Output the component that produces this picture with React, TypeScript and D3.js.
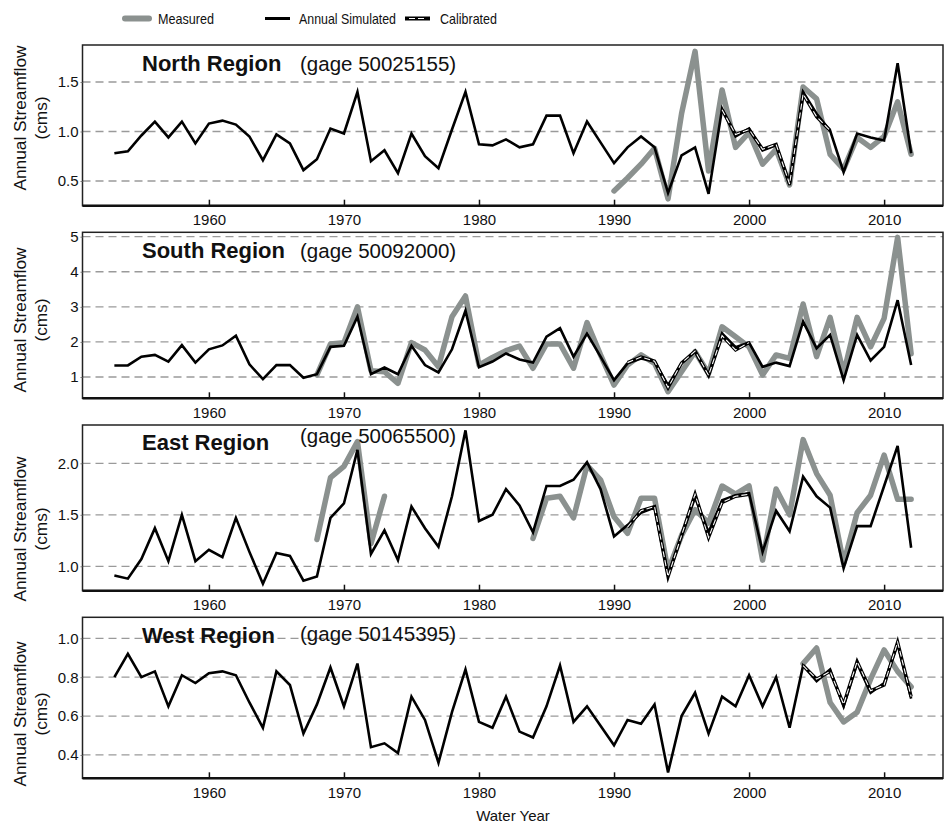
import React, { useEffect, useRef } from "react";
import * as d3 from "d3";

// water years shown on every panel
const years = d3.range(1953, 2013);
const xTicks = [1960, 1970, 1980, 1990, 2000, 2010];

// North Region (gage 50025155)
const northSim = [
  0.78, 0.8, 0.96, 1.1, 0.94, 1.1, 0.88, 1.08, 1.11, 1.07,
  0.95, 0.71, 0.97, 0.88, 0.61, 0.72, 1.03, 0.98, 1.4, 0.7,
  0.81, 0.58, 0.98, 0.75, 0.63, 1.02, 1.4, 0.87, 0.86, 0.92,
  0.84, 0.87, 1.16, 1.16, 0.78, 1.1, 0.89, 0.68, 0.84, 0.95,
  0.84, 0.38, 0.76, 0.84, 0.37, 1.23, 0.95, 1.03, 0.81, 0.86,
  0.46, 1.4, 1.18, 1.01, 0.59, 0.98, 0.94, 0.91, 1.69, 0.78,
];
const northMeasStart = 1990;
const northMeas = [
  0.4, 0.53, 0.67, 0.83, 0.32, 1.18, 1.81, 0.6, 1.42, 0.84, 0.99, 0.67,
  0.82, 0.46, 1.45, 1.33, 0.77, 0.62, 0.94, 0.84, 0.95, 1.3, 0.77,
];
const northCalStart = 1998;
const northCal = [1.22, 0.97, 1.02, 0.82, 0.87, 0.47, 1.38, 1.15, 1.01];

// South Region (gage 50092000)
const southSim = [
  1.33, 1.33, 1.58, 1.63, 1.44, 1.91, 1.41, 1.79, 1.9, 2.18,
  1.36, 0.94, 1.34, 1.34, 0.98, 1.08, 1.86, 1.89, 2.72, 1.08,
  1.27, 1.08, 1.89, 1.34, 1.13, 1.79, 2.89, 1.28, 1.44, 1.67,
  1.5, 1.41, 2.15, 2.39, 1.58, 2.24, 1.58, 0.91, 1.39, 1.53,
  1.44, 0.77, 1.39, 1.72, 1.06, 2.24, 1.85, 1.98, 1.29, 1.41,
  1.31, 2.58, 1.82, 2.2, 0.91, 2.2, 1.47, 1.86, 3.19, 1.34,
];
const southMeasStart = 1968;
const southMeas = [
  1.06, 1.94, 1.98, 3.0, 1.18, 1.15, 0.82, 1.98, 1.77, 1.29,
  2.72, 3.31, 1.34, 1.56, 1.75, 1.88, 1.25, 1.94, 1.94, 1.25,
  2.55, 1.63, 0.77, 1.34, 1.63, 1.39, 0.58, 1.15, 1.72, 1.1,
  2.43, 2.15, 1.86, 1.06, 1.63, 1.53, 3.08, 1.58, 2.7, 1.1,
  2.7, 1.86, 2.67, 4.98, 1.66,
];
const southCalStart = 1991;
const southCal = [1.41, 1.57, 1.45, 0.7, 1.4, 1.74, 1.05, 2.18, 1.77, 1.98];

// East Region (gage 50065500)
const eastSim = [
  0.91, 0.88, 1.07, 1.37, 1.05, 1.5, 1.05, 1.16, 1.09, 1.47,
  1.14, 0.83, 1.13, 1.1, 0.86, 0.9, 1.47, 1.61, 2.13, 1.12,
  1.35, 1.06, 1.58, 1.37, 1.19, 1.68, 2.32, 1.44, 1.5, 1.75,
  1.59, 1.33, 1.78, 1.78, 1.84, 2.01, 1.75, 1.29, 1.4, 1.52,
  1.57, 0.92, 1.29, 1.67, 1.33, 1.64, 1.69, 1.71, 1.14, 1.54,
  1.34, 1.87, 1.68, 1.57, 0.98, 1.39, 1.39, 1.78, 2.17, 1.18,
];
const eastMeasStart = 1968;
const eastMeas = [
  1.26, 1.86, 1.97, 2.21, 1.22, 1.68, null, null, null, null,
  null, null, null, null, null, null, 1.27, 1.66, 1.68, 1.47,
  1.98, 1.84, 1.48, 1.32, 1.66, 1.66, 0.96, 1.3, 1.55, 1.42,
  1.78, 1.7, 1.78, 1.06, 1.75, 1.5, 2.23, 1.9, 1.69, 1.03,
  1.52, 1.69, 2.08, 1.65, 1.65,
];
const eastCalStart = 1991;
const eastCal = [1.38, 1.54, 1.58, 0.9, 1.3, 1.7, 1.28, 1.62, 1.68, 1.7];

// West Region (gage 50145395)
const westSim = [
  0.8, 0.92, 0.8, 0.83, 0.65, 0.81, 0.77, 0.82, 0.83, 0.81,
  0.67, 0.54, 0.83, 0.76, 0.51, 0.66, 0.85, 0.65, 0.87, 0.44,
  0.46, 0.41, 0.7, 0.58, 0.36, 0.62, 0.84, 0.57, 0.54, 0.7,
  0.52, 0.49, 0.65, 0.86, 0.57, 0.65, 0.55, 0.45, 0.58, 0.56,
  0.66, 0.31, 0.6, 0.72, 0.51, 0.7, 0.65, 0.81, 0.65, 0.8,
  0.54, 0.86, 0.78, 0.84, 0.65, 0.87, 0.72, 0.77, 0.97, 0.69,
];
const westMeasStart = 2004;
const westMeas = [0.87, 0.95, 0.67, 0.57, 0.62, 0.79, 0.94, 0.83, 0.75];
const westCalStart = 2004;
const westCal = [0.86, 0.79, 0.83, 0.66, 0.88, 0.73, 0.76, 0.98, 0.7];

const legendLabels = ["Measured", "Annual Simulated", "Calibrated"];

type Pt = { year: number; value: number | null };
const toPts = (start: number, vals: (number | null)[]): Pt[] =>
  vals.map((v, i) => ({ year: start + i, value: v }));

const panels = [
  {
    name: "North Region", gage: "(gage 50025155)",
    sim: northSim, meas: toPts(northMeasStart, northMeas), cal: toPts(northCalStart, northCal),
    yDomain: [0.2505, 1.874], yTicks: [0.5, 1.0, 1.5], fmt: ".1f",
    top: 45, bottom: 205.7, nameY: 70.5, gageY: 71, titleY: 118,
  },
  {
    name: "South Region", gage: "(gage 50092000)",
    sim: southSim, meas: toPts(southMeasStart, southMeas), cal: toPts(southCalStart, southCal),
    yDomain: [0.393, 5.125], yTicks: [1, 2, 3, 4, 5], fmt: "d",
    top: 232.3, bottom: 398.3, nameY: 258, gageY: 258, titleY: 320,
  },
  {
    name: "East Region", gage: "(gage 50065500)",
    sim: eastSim, meas: toPts(eastMeasStart, eastMeas), cal: toPts(eastCalStart, eastCal),
    yDomain: [0.763, 2.372], yTicks: [1.0, 1.5, 2.0], fmt: ".1f",
    top: 425, bottom: 590.7, nameY: 450, gageY: 443, titleY: 529,
  },
  {
    name: "West Region", gage: "(gage 50145395)",
    sim: westSim, meas: toPts(westMeasStart, westMeas), cal: toPts(westCalStart, westCal),
    yDomain: [0.28, 1.108], yTicks: [0.4, 0.6, 0.8, 1.0], fmt: ".1f",
    top: 617.3, bottom: 778.3, nameY: 643, gageY: 641, titleY: 714,
  },
];

const FONT = "'Liberation Sans', Arial, Helvetica, sans-serif";
const GRAY = "#8b918f";

const App: React.FC = () => {
  const svgRef = useRef<SVGSVGElement>(null);

  useEffect(() => {
    const svg = d3.select(svgRef.current);
    svg.selectAll("*").remove();
    svg.attr("font-family", FONT);

    const left = 82.5;
    const right = 943;
    const x = d3.scaleLinear().domain([1950.64, 2014.36]).range([left, right]);

    panels.forEach((p) => {
      const y = d3.scaleLinear().domain(p.yDomain).range([p.bottom, p.top]);
      const g = svg.append("g");

      g.selectAll("line.grid")
        .data(p.yTicks)
        .join("line")
        .attr("x1", left)
        .attr("x2", right)
        .attr("y1", (d) => y(d))
        .attr("y2", (d) => y(d))
        .attr("stroke", "#9a9a9a")
        .attr("stroke-width", 1.3)
        .attr("stroke-dasharray", "8,5");

      const line = d3.line<Pt>()
        .defined((d) => d.value !== null)
        .x((d) => x(d.year))
        .y((d) => y(d.value as number));

      const simPts = toPts(years[0], p.sim);

      g.append("path").datum(p.meas)
        .attr("d", line)
        .attr("fill", "none")
        .attr("stroke", GRAY)
        .attr("stroke-width", 5.5)
        .attr("stroke-linejoin", "round")
        .attr("stroke-linecap", "round");

      g.append("path").datum(simPts)
        .attr("d", line)
        .attr("fill", "none")
        .attr("stroke", "#000")
        .attr("stroke-width", 2.6)
        .attr("stroke-linejoin", "miter");

      g.append("path").datum(p.cal)
        .attr("d", line)
        .attr("fill", "none")
        .attr("stroke", "#000")
        .attr("stroke-width", 3.4);
      g.append("path").datum(p.cal)
        .attr("d", line)
        .attr("fill", "none")
        .attr("stroke", "#fff")
        .attr("stroke-width", 1.1)
        .attr("stroke-dasharray", "6,3");

      // frame
      g.append("rect")
        .attr("x", left)
        .attr("y", p.top)
        .attr("width", right - left)
        .attr("height", p.bottom - p.top)
        .attr("fill", "none")
        .attr("stroke", "#222")
        .attr("stroke-width", 1.5);
      g.append("line")
        .attr("x1", left).attr("x2", right)
        .attr("y1", p.bottom).attr("y2", p.bottom)
        .attr("stroke", "#111")
        .attr("stroke-width", 2.5);

      // axes
      const xa = g.append("g")
        .attr("transform", `translate(0,${p.bottom})`)
        .call(d3.axisBottom(x).tickValues(xTicks).tickFormat(d3.format("d"))
          .tickSizeInner(-6).tickSizeOuter(0).tickPadding(9));
      xa.select(".domain").remove();
      xa.selectAll("line").attr("stroke", "#111").attr("stroke-width", 1.5);
      xa.selectAll("text").attr("font-size", 15).attr("font-family", FONT).attr("fill", "#111");

      const ya = g.append("g")
        .attr("transform", `translate(${left},0)`)
        .call(d3.axisLeft(y).tickValues(p.yTicks).tickFormat(d3.format(p.fmt))
          .tickSizeInner(2).tickSizeOuter(0).tickPadding(2));
      ya.select(".domain").remove();
      ya.selectAll("line").attr("stroke", "#777");
      ya.selectAll("text").attr("font-size", 15).attr("font-family", FONT).attr("fill", "#111");

      // titles
      g.append("text")
        .attr("x", 142).attr("y", p.nameY)
        .attr("font-size", 22).attr("font-weight", "bold").attr("fill", "#111")
        .text(p.name);
      g.append("text")
        .attr("x", 300).attr("y", p.gageY)
        .attr("font-size", 20.5).attr("fill", "#111")
        .text(p.gage);

      // y title
      g.append("text")
        .attr("transform", `translate(26,${p.titleY}) rotate(-90)`)
        .attr("text-anchor", "middle")
        .attr("font-size", 17.3).attr("fill", "#111")
        .text("Annual Streamflow");
      g.append("text")
        .attr("transform", `translate(47,${p.titleY}) rotate(-90)`)
        .attr("text-anchor", "middle")
        .attr("font-size", 17.3).attr("fill", "#111")
        .text("(cms)");
    });

    svg.append("text")
      .attr("x", 513).attr("y", 821)
      .attr("text-anchor", "middle")
      .attr("font-size", 15).attr("fill", "#111")
      .text("Water Year");

    // legend
    const lg = svg.append("g");
    lg.append("line").attr("x1", 125).attr("x2", 149).attr("y1", 18.5).attr("y2", 18.5)
      .attr("stroke", GRAY).attr("stroke-width", 6).attr("stroke-linecap", "round");
    lg.append("line").attr("x1", 265).attr("x2", 290).attr("y1", 18.5).attr("y2", 18.5)
      .attr("stroke", "#000").attr("stroke-width", 3);
    lg.append("line").attr("x1", 405).attr("x2", 430).attr("y1", 18.5).attr("y2", 18.5)
      .attr("stroke", "#000").attr("stroke-width", 4);
    lg.append("line").attr("x1", 409).attr("x2", 426).attr("y1", 18.5).attr("y2", 18.5)
      .attr("stroke", "#fff").attr("stroke-width", 1.2).attr("stroke-dasharray", "6,3");
    const slots: [number, number][] = [[158, 56], [299, 97], [440, 57]];
    legendLabels.forEach((label, i) => {
      lg.append("text")
        .attr("x", slots[i][0]).attr("y", 23.5)
        .attr("font-size", 14.5).attr("fill", "#111")
        .attr("textLength", slots[i][1]).attr("lengthAdjust", "spacingAndGlyphs")
        .text(label);
    });
  }, []);

  return (
    <div style={{ position: "absolute", left: 0, top: 0 }}>
      <svg ref={svgRef} width={950} height={823} />
    </div>
  );
};

export default App;
